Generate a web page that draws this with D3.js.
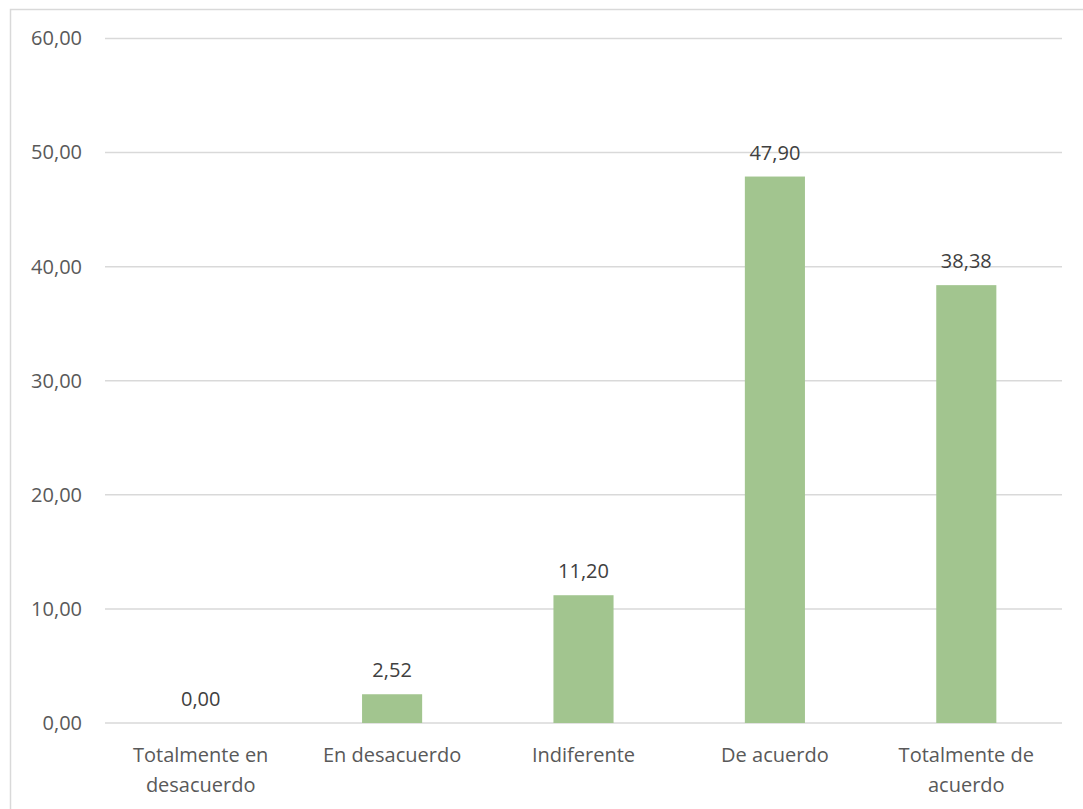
<!DOCTYPE html>
<html>
<head>
<meta charset="utf-8">
<script src="https://cdn.jsdelivr.net/npm/d3@7"></script>
<style>
  body { margin: 0; background: #fff; }
  text { font-family: "Open Sans", "Noto Sans", sans-serif; }
</style>
</head>
<body>
<div id="chart"></div>
<script>
// categories and values
const categories = ['Totalmente en desacuerdo', 'En desacuerdo', 'Indiferente', 'De acuerdo', 'Totalmente de acuerdo'];
const values = [0.00, 2.52, 11.20, 47.90, 38.38];
const yTicks = [0, 10, 20, 30, 40, 50, 60];

// category labels broken into lines as in the picture
const labelLines = [
  ['Totalmente en', 'desacuerdo'],
  ['En desacuerdo'],
  ['Indiferente'],
  ['De acuerdo'],
  ['Totalmente de', 'acuerdo']
];

const W = 1083, H = 809;
const margin = {t: 38.5, r: 21, b: 86, l: 105};
const w = W - margin.l - margin.r;
const h = H - margin.t - margin.b;

const fmt = v => d3.format('.2f')(v).replace('.', ',');

const svg = d3.select('#chart').append('svg')
  .attr('width', W)
  .attr('height', H);

// outer frame
svg.append('rect')
  .attr('x', 10.5).attr('y', 9.5)
  .attr('width', 1100).attr('height', 900)
  .attr('fill', 'none')
  .attr('stroke', '#d9d9d9')
  .attr('stroke-width', 1.5);

const plot = svg.append('g')
  .attr('transform', `translate(${margin.l}, ${margin.t})`);

const x = d3.scaleBand().domain(categories).range([0, w]).paddingInner(0.686).paddingOuter(0.343);
const y = d3.scaleLinear().domain([0, 60]).range([h, 0]);

// gridlines
plot.append('g')
  .selectAll('line')
  .data(yTicks)
  .join('line')
  .attr('x1', 0).attr('x2', w)
  .attr('y1', d => y(d)).attr('y2', d => y(d))
  .attr('stroke', '#d9d9d9')
  .attr('stroke-width', 1.5);

// y axis labels
const yAxis = plot.append('g')
  .call(d3.axisLeft(y).tickValues(yTicks).tickFormat(fmt).tickSize(0).tickPadding(23));
yAxis.select('.domain').remove();
yAxis.selectAll('text')
  .attr('fill', '#595959')
  .style('font-size', '20px');

// bars
plot.selectAll('.bar')
  .data(values)
  .join('rect')
  .attr('class', 'bar')
  .attr('x', (d, i) => x(categories[i]))
  .attr('width', x.bandwidth())
  .attr('y', d => y(d))
  .attr('height', d => h - y(d))
  .attr('fill', '#a2c58f');

// value labels
plot.selectAll('.val')
  .data(values)
  .join('text')
  .attr('class', 'val')
  .attr('x', (d, i) => x(categories[i]) + x.bandwidth() / 2)
  .attr('y', d => y(d) - 17)
  .attr('text-anchor', 'middle')
  .attr('fill', '#404040')
  .style('font-size', '20px')
  .text(fmt);

// category labels
const cat = plot.selectAll('.cat')
  .data(categories)
  .join('text')
  .attr('class', 'cat')
  .attr('x', d => x(d) + x.bandwidth() / 2)
  .attr('y', h + 39)
  .attr('text-anchor', 'middle')
  .attr('fill', '#595959')
  .style('font-size', '20px');

cat.each(function(d, i) {
  d3.select(this).selectAll('tspan')
    .data(labelLines[i])
    .join('tspan')
    .attr('x', x(d) + x.bandwidth() / 2)
    .attr('dy', (t, j) => j === 0 ? 0 : 30)
    .text(t => t);
});
</script>
</body>
</html>
